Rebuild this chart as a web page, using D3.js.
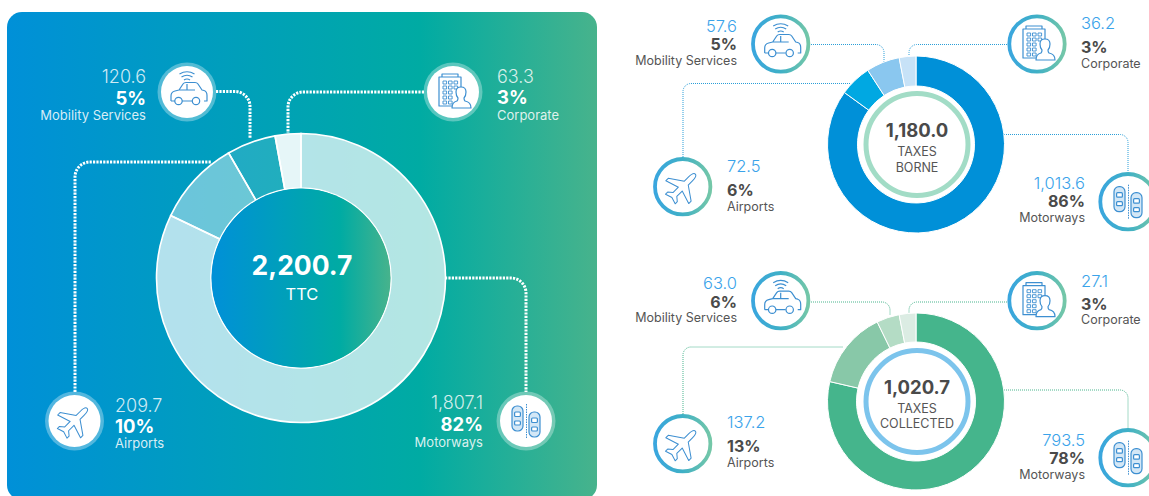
<!DOCTYPE html>
<html>
<head>
<title>TTC donuts</title>
<script src="https://d3js.org/d3.v7.min.js"></script>
<style>
	html, body { margin: 0; padding: 0; background: #fff; overflow: hidden; }
	svg { display: block; }
	text { font-family: Inter, "Open Sans", sans-serif; }
	.num { font-weight: 300; }
	.pct { font-weight: 700; }
</style>
</head>
<body>
<script>
var categories = ["Motorways", "Airports", "Mobility Services", "Corporate"];

var ttcValues = [1807.1, 209.7, 120.6, 63.3];
var ttcPercent = [82, 10, 5, 3];
var ttcTotal = 2200.7;

var borneValues = [1013.6, 72.5, 57.6, 36.2];
var bornePercent = [86, 6, 5, 3];
var borneTotal = 1180.0;

var collectedValues = [793.5, 137.2, 63.0, 27.1];
var collectedPercent = [78, 13, 6, 3];
var collectedTotal = 1020.7;

// the two small rings in the reference are not quite drawn to their printed
// numbers, so the arcs use the sweep (degrees)
var borneSweep = [306, 21, 22, 11];
var collectedSweep = [283, 51, 15, 11];

var width = 1149, height = 496;
var fmt = d3.format(",.1f");

var svg = d3.select("body").append("svg").attr("width", width).attr("height", height);
var defs = svg.append("defs");

function hGradient(id, stops) {
	var g = defs.append("linearGradient").attr("id", id).attr("x1", 0).attr("x2", 1).attr("y1", 0).attr("y2", 0);
	stops.forEach(function (s) {
		g.append("stop").attr("offset", s[0]).attr("stop-color", s[1]);
	});
}
hGradient("panelGrad", [[0, "#0090d8"], [0.7, "#00aba3"], [1, "#47b38c"]]);
hGradient("holeGrad", [[0, "#0090d8"], [0.72, "#00aba3"], [1, "#47b38c"]]);
hGradient("ringGrad", [[0, "#3aa6de"], [0.5, "#3fb0c6"], [1, "#74c7a8"]]);

// ---- icons, all drawn round 0,0
var iconColor = "#3d8fd1";

function iconCar(g) {
	g.append("path").attr("d", "M-16,9 v-5 q0,-4 4,-5 l4,-1 l4,-6 q1,-1.5 3,-1.5 h9 q2,0 3,1.5 l4,6 l2,.5 q3,1 3,5 v5.5 h-3 M-5,9 h10 M-12,9 h-4 M-8,-2 h16 M0,-8 v6");
	g.append("circle").attr("cx", -8.5).attr("cy", 9).attr("r", 3.7);
	g.append("circle").attr("cx", 9).attr("cy", 9).attr("r", 3.7);
	g.append("path").attr("d", "M-3,-12 q3,-2 6,0 M-5.5,-15 q5.5,-3.5 11,0 M-7.5,-18 q7.5,-4.5 15,0");
}
function iconBuilding(g) {
	g.append("path").attr("d", "M3,14 h-17 v-29 h22 v10 M-11,-15 v-3 h16 v3");
	[-10, -4.5, 1].forEach(function (x) {
		[-11, -6, -1, 4, 9].forEach(function (y) {
			if (x == 1 && y > -2) { return; }
			g.append("rect").attr("x", x).attr("y", y).attr("width", 3.6).attr("height", 3).attr("stroke-width", 0.9);
		});
	});
	g.append("path").attr("fill", "#fff").attr("d", "M-1,16 q0,-6 5,-7 q1,-1 1,-3 q-2,-2 -2,-6 q0,-5 5,-5 q5,0 5,5 q0,4 -2,6 q0,2 1,3 q6,1 6,7 z");
}
function iconPlane(g) {
	g.append("path").attr("transform", "rotate(45) scale(.85)")
		.attr("d", "M0,-21 C2.5,-21 3.2,-16 3.2,-13 L3.2,-6 L19,5 L19,9 L3.2,4 L3.2,13 L8,17 L8,20.5 L0,18 L-8,20.5 L-8,17 L-3.2,13 L-3.2,4 L-19,9 L-19,5 L-3.2,-6 L-3.2,-13 C-3.2,-16 -2.5,-21 0,-21Z");
}
function iconCars(g) {
	[[-14, -15], [3, -9]].forEach(function (c) {
		g.append("rect").attr("x", c[0]).attr("y", c[1]).attr("width", 11).attr("height", 25).attr("rx", 5).attr("fill", "#d3e7f6");
		g.append("rect").attr("x", c[0] + 2.6).attr("y", c[1] + 6).attr("width", 5.8).attr("height", 4.5).attr("rx", 1).attr("fill", "#fff");
		g.append("rect").attr("x", c[0] + 2.6).attr("y", c[1] + 15).attr("width", 5.8).attr("height", 4).attr("rx", 1).attr("fill", "#fff");
	});
	g.append("path").attr("stroke-dasharray", "1.5 1").attr("stroke-width", 1).attr("d", "M0.5,-17 V18");
}
var icons = [iconCars, iconPlane, iconCar, iconBuilding];

// rounded elbow: from a to b with the corner at c
function elbow(a, c, b, r) {
	var p = d3.path();
	p.moveTo(a[0], a[1]);
	p.arcTo(c[0], c[1], b[0], b[1], r);
	p.lineTo(b[0], b[1]);
	return p.toString();
}

function drawText(g, x, ys, anchor, i, value, pct, sizes, colors) {
	var t = g.append("g").attr("text-anchor", anchor);
	t.append("text").attr("class", "num").attr("x", x).attr("y", ys[0])
		.attr("font-size", sizes[0]).attr("fill", colors[0]).text(fmt(value));
	t.append("text").attr("class", "pct").attr("x", x).attr("y", ys[1])
		.attr("font-size", sizes[1]).attr("fill", colors[1]).text(pct + "%");
	t.append("text").attr("x", x).attr("y", ys[2])
		.attr("font-size", sizes[2]).attr("fill", colors[2]).text(categories[i]);
}

function drawIcon(g, i, cx, cy, big) {
	var n = g.append("g").attr("transform", "translate(" + cx + "," + cy + ")");
	if (big) {
		n.append("circle").attr("r", 29.5).attr("fill", "#fff").attr("fill-opacity", 0.32);
		n.append("circle").attr("r", 26).attr("fill", "#fff");
	} else {
		n.append("circle").attr("r", 27.7).attr("fill", "#fff").attr("stroke", "url(#ringGrad)").attr("stroke-width", 3.8);
	}
	var ic = n.append("g").attr("fill", "none").attr("stroke", iconColor).attr("stroke-width", 1.2).attr("stroke-linejoin", "round");
	icons[i](ic);
}

function drawDonut(g, cx, cy, rOuter, rInner, weights, fills, opacities, strokeW) {
	var pie = d3.pie().sort(null).value(function (d) { return d; });
	var arc = d3.arc().innerRadius(rInner).outerRadius(rOuter);
	g.append("g").attr("transform", "translate(" + cx + "," + cy + ")")
		.selectAll("path").data(pie(weights)).enter().append("path")
		.attr("d", arc)
		.attr("fill", function (d, i) { return fills[i]; })
		.attr("fill-opacity", function (d, i) { return opacities[i]; })
		.attr("stroke", "#fff").attr("stroke-width", strokeW);
}

// ---- big panel
svg.append("rect").attr("x", 7).attr("y", 12).attr("width", 590).attr("height", 488).attr("rx", 15)
	.attr("fill", "url(#panelGrad)");

var main = svg.append("g");
var mainLines = [
	[[445, 278], [526, 278], [526, 392]],
	[[75, 392], [75, 162], [212, 162]],
	[[216, 91.5], [250, 91.5], [250, 138]],
	[[424, 92], [288, 92], [288, 133]]
];
main.selectAll("path.link").data(mainLines).enter().append("path").attr("class", "link")
	.attr("d", function (d) { return elbow(d[0], d[1], d[2], 15); })
	.attr("fill", "none").attr("stroke", "#fff").attr("stroke-width", 3).attr("stroke-dasharray", "2.2 1.2");

drawDonut(main, 301, 278, 144.5, 90, ttcValues, ["#fff", "#fff", "#fff", "#fff"], [0.7, 0.42, 0.13, 0.9], 1.6);
main.append("circle").attr("cx", 301).attr("cy", 278).attr("r", 89.5).attr("fill", "url(#holeGrad)");
main.append("text").attr("x", 302).attr("y", 275).attr("text-anchor", "middle").attr("font-size", 26.5).attr("font-weight", 700).attr("fill", "#fff").text(fmt(ttcTotal));
main.append("text").attr("x", 302).attr("y", 300).attr("text-anchor", "middle").attr("font-size", 16.5).attr("fill", "#fff").text("TTC");

var mainIcons = [[526, 421], [74.5, 421], [187, 92], [453, 92]];
mainIcons.forEach(function (c, i) { drawIcon(main, i, c[0], c[1], true); });

var mainColors = ["rgba(255,255,255,.82)", "#fff", "rgba(255,255,255,.85)"];
var mainSizes = [18, 18.5, 13];
drawText(main, 483, [409, 431, 447], "end", 0, ttcValues[0], ttcPercent[0], mainSizes, mainColors);
drawText(main, 115, [412, 433, 448], "start", 1, ttcValues[1], ttcPercent[1], mainSizes, mainColors);
drawText(main, 146, [83, 105, 120], "end", 2, ttcValues[2], ttcPercent[2], mainSizes, mainColors);
drawText(main, 497, [83, 104, 120], "start", 3, ttcValues[3], ttcPercent[3], mainSizes, mainColors);

// ---- small rings on the right
function drawSmall(o) {
	var g = svg.append("g");
	g.selectAll("path.link").data(o.lines).enter().append("path").attr("class", "link")
		.attr("d", function (d) { return elbow(d[0], d[1], d[2], 8); })
		.attr("fill", "none").attr("stroke", o.linkColor).attr("stroke-width", 1).attr("stroke-dasharray", "1 1");
	drawDonut(g, 916, o.cy, 88.5, o.rInner, o.sweep, o.fills, [1, 1, 1, 1], 1);
	g.append("circle").attr("cx", 917).attr("cy", o.cy).attr("r", 51).attr("fill", "#fff").attr("stroke", o.ringColor).attr("stroke-width", 5);
	g.append("text").attr("x", 917).attr("y", o.cy - 8).attr("text-anchor", "middle").attr("font-size", 18.5).attr("font-weight", 700).attr("fill", "#4a4a4a").text(fmt(o.total));
	o.center.forEach(function (s, i) {
		g.append("text").attr("x", 917).attr("y", o.centerY[i]).attr("text-anchor", "middle").attr("font-size", 12.5).attr("fill", "#555").text(s);
	});
	o.icons.forEach(function (c, i) { drawIcon(g, i, c[0], c[1], false); });
	var sizes = [16.5, 16, 12.5], colors = ["#3aa3ea", "#4a4a4a", "#555"];
	drawText(g, 1085, o.ys[0], "end", 0, o.values[0], o.percent[0], sizes, colors);
	drawText(g, 727, o.ys[1], "start", 1, o.values[1], o.percent[1], sizes, colors);
	drawText(g, 737, o.ys[2], "end", 2, o.values[2], o.percent[2], sizes, colors);
	drawText(g, 1081, o.ys[3], "start", 3, o.values[3], o.percent[3], sizes, colors);
}

drawSmall({
	cy: 144.5, rInner: 58.5, sweep: borneSweep, values: borneValues, percent: bornePercent, total: borneTotal,
	fills: ["#0090d8", "#00a8e2", "#8ac7ef", "#c7e2f7"], linkColor: "#2a9ed8", ringColor: "#a2dcc6",
	center: ["TAXES", "BORNE"], centerY: [156, 172],
	icons: [[1128, 201.7], [682.7, 186.7], [780.7, 44], [1037, 44]],
	ys: [[189, 207, 222], [172, 195.7, 210.7], [32, 50, 65], [29, 52.7, 68]],
	lines: [
		[[1004, 134.5], [1128, 134.5], [1128, 172]],
		[[683, 157], [683, 83.5], [850, 83.5]],
		[[811, 44.5], [884, 44.5], [884, 62]],
		[[1007, 44.5], [909, 44.5], [909, 56]]
	]
});

drawSmall({
	cy: 401.5, rInner: 59.5, sweep: collectedSweep, values: collectedValues, percent: collectedPercent, total: collectedTotal,
	fills: ["#45b58c", "#88c8a8", "#b4dcc5", "#dbece3"], linkColor: "#4ab58e", ringColor: "#7cc4ec",
	center: ["TAXES", "COLLECTED"], centerY: [413, 428],
	icons: [[1128, 457.7], [682.7, 443.7], [780.7, 300.7], [1037, 300.7]],
	ys: [[446, 464, 479], [428, 451.7, 466.7], [288.7, 307.7, 321.7], [287, 310, 324]],
	lines: [
		[[1004, 390], [1128, 390], [1128, 428]],
		[[683, 414], [683, 347], [843, 347]],
		[[811, 302], [890, 302], [890, 315]],
		[[1007, 302], [909, 302], [909, 313]]
	]
});
</script>
</body>
</html>
